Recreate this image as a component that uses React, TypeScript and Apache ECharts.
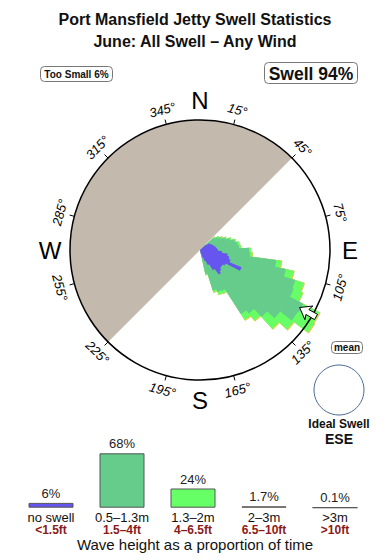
import React, { useEffect, useRef } from 'react';
import * as echarts from 'echarts';

// ---------- DATA ----------
// Rose bins (direction swell comes from, degrees, 5-degree bins)
const ROSE_DIRS = [50, 55, 60, 65, 70, 75, 80, 85, 90, 95, 100, 105, 110, 115, 120, 125, 130, 135, 140, 145, 150, 155, 160, 165];
// Relative frequency per bin (units: circle radius = 130)
const NO_SWELL = [8, 11, 12, 13, 14, 15, 16, 17, 18, 22, 28, 30, 32, 45, 29, 27, 27, 29, 31, 24, 17, 12, 8, 4];
const SWELL_05_13 = [10.5, 10.5, 12, 14.5, 17.5, 20.5, 22, 22, 31, 28, 49, 58, 68, 56.5, 87.7, 88.7, 74, 62, 49, 52, 29.5, 33.5, 34.5, 20.5];
const SWELL_13_2 = [1.5, 1.5, 1.5, 1.5, 1.5, 1.5, 2, 2, 2, 2.5, 5, 8, 9, 10, 18, 20, 17, 16, 9, 7, 3, 3, 2, 1.5];
const SWELL_2_3 = [0, 0, 0.5, 0, 0, 0, 0, 0, 0, 0.5, 1, 1, 1, 0.5, 1, 1, 1, 1, 1, 1, 0.5, 0.5, 0.5, 0];
const SWELL_3P = [0, 0, 0, 0, 0, 0, 0, 0, 0, 0, 0, 0, 0, 0, 0.3, 0.3, 0, 0, 0, 0, 0, 0, 0, 0];
const BIN_WIDTH = 5;

const CIRCLE_VALUE = 130;
const SHADOW_RANGE = [225, 405]; // sheltered directions, clockwise from 225 to 45
const MEAN_DIR = 120;
const TICK_ANGLES = [15, 45, 75, 105, 135, 165, 195, 225, 255, 285, 315, 345];
const TICK_LABELS = ['15°', '45°', '75°', '105°', '135°', '165°', '195°', '225°', '255°', '285°', '315°', '345°'];
const COMPASS_ANGLES = [0, 90, 180, 270];
const COMPASS_LABELS = ['N', 'E', 'S', 'W'];

// Legend / summary bars
const HEIGHT_CATS = ['no swell', '0.5–1.3m', '1.3–2m', '2–3m', '>3m'];
const HEIGHT_FT = ['<1.5ft', '1.5–4ft', '4–6.5ft', '6.5–10ft', '>10ft'];
const HEIGHT_PCT = [6, 68, 24, 1.7, 0.1];

const TOO_SMALL_PCT = 6;
const SWELL_PCT = 94;
const IDEAL_SWELL = 'ESE';

// ---------- STYLE ----------
const FONT = "'Liberation Sans', Arial, Helvetica, sans-serif";
const COLORS = ['#6655ee', '#66cc8c', '#66ff66', '#f0d040', '#d0b0a8'];
const SHADOW_COLOR = '#c4b9ad';
const CX = 200;
const CY = 250;
const R = 130;

const roseSets = [NO_SWELL, SWELL_05_13, SWELL_13_2, SWELL_2_3, SWELL_3P];

// cumulative (stacked) tops for each layer
const cumulative: number[][] = roseSets.map((_, k) =>
  ROSE_DIRS.map((__, i) => roseSets.slice(0, k + 1).reduce((s, set) => s + set[i], 0))
);

function buildOption(): any {
  const deg2rad = (d: number) => (d * Math.PI) / 180;
  const dist = (a: number[], b: number[]) => Math.hypot(a[0] - b[0], a[1] - b[1]);

  return {
    animation: false,
    backgroundColor: '#ffffff',
    title: [
      { text: 'Port Mansfield Jetty Swell Statistics', left: 'center', top: 11, padding: 0, textStyle: { fontFamily: FONT, fontSize: 16, fontWeight: 'bold', color: '#111' } },
      { text: 'June: All Swell – Any Wind', left: 'center', top: 33, padding: 0, textStyle: { fontFamily: FONT, fontSize: 16, fontWeight: 'bold', color: '#111' } },
      { text: 'Wave height as a proportion of time', left: 'center', top: 537, padding: 0, textStyle: { fontFamily: FONT, fontSize: 15, fontWeight: 'normal', color: '#111' } },
    ],
    polar: [{ center: [CX, CY], radius: R }],
    angleAxis: [
      {
        polarIndex: 0,
        type: 'value',
        min: -15,
        max: 345,
        interval: 30,
        startAngle: 105,
        clockwise: true,
        z: 5,
        axisLine: { show: true, lineStyle: { color: '#000', width: 1.5 } },
        axisTick: { show: true, inside: false, length: 5, lineStyle: { color: '#000', width: 1 } },
        axisLabel: { show: false },
        splitLine: { show: false },
      },
    ],
    radiusAxis: [
      { polarIndex: 0, type: 'value', min: 0, max: CIRCLE_VALUE, show: false, axisLine: { show: false }, axisTick: { show: false }, axisLabel: { show: false }, splitLine: { show: false } },
    ],
    grid: { left: 15.5, width: 355, top: 427.7, height: 80 },
    xAxis: {
      type: 'category',
      data: HEIGHT_CATS,
      axisLine: { show: false },
      axisTick: { show: false },
      axisLabel: {
        margin: 3,
        interval: 0,
        formatter: (v: string, i: number) => `{m|${v}}\n{f|${HEIGHT_FT[i]}}`,
        rich: {
          m: { fontFamily: FONT, fontSize: 13, color: '#111', lineHeight: 13 },
          f: { fontFamily: FONT, fontSize: 12, fontWeight: 'bold', color: '#8b1a1a', lineHeight: 13 },
        },
      },
    },
    yAxis: { type: 'value', min: 0, max: 100, show: false, splitLine: { show: false } },
    series: [
      // sheltered sector
      {
        type: 'custom',
        coordinateSystem: 'polar',
        polarIndex: 0,
        silent: true,
        z: 1,
        data: [[CIRCLE_VALUE, SHADOW_RANGE[0], SHADOW_RANGE[1]]],
        renderItem: (params: any, api: any) => {
          const c = api.coord([0, 0]);
          const r = dist(c, api.coord([api.value(0), 0]));
          const a0 = api.value(1);
          const a1 = api.value(2);
          return {
            type: 'sector',
            shape: { cx: c[0], cy: c[1], r0: 0, r, startAngle: deg2rad(a0 - 90), endAngle: deg2rad(a1 - 90), clockwise: true },
            style: { fill: SHADOW_COLOR },
          };
        },
      },
      // swell rose: one stepped polygon per stacked layer, outermost layer first
      {
        type: 'custom',
        coordinateSystem: 'polar',
        polarIndex: 0,
        silent: true,
        clip: false,
        z: 3,
        data: [4, 3, 2, 1, 0].map((k) => [0, 0, k]),
        renderItem: (params: any, api: any) => {
          const k = api.value(2);
          const tops = cumulative[k];
          const pts: number[][] = [api.coord([0, ROSE_DIRS[0]])];
          ROSE_DIRS.forEach((dir, i) => {
            const r = tops[i];
            for (let s = 0; s <= 4; s++) {
              const a = dir - BIN_WIDTH / 2 + (BIN_WIDTH * s) / 4;
              pts.push(api.coord([r, a]));
            }
          });
          pts.push(api.coord([0, ROSE_DIRS[ROSE_DIRS.length - 1]]));
          return {
            type: 'polygon',
            shape: { points: pts },
            style: { fill: COLORS[k], stroke: 'none' },
          };
        },
      },
      // mean direction arrow
      {
        type: 'custom',
        coordinateSystem: 'polar',
        polarIndex: 0,
        silent: true,
        z: 6,
        data: [[CIRCLE_VALUE, MEAN_DIR]],
        renderItem: (params: any, api: any) => {
          const a = api.value(1);
          const pts = [
            [115, a],
            [126, a + 3.6],
            [124, a + 1.3],
            [134, a + 1.3],
            [134, a - 1.3],
            [124, a - 1.3],
            [126, a - 3.6],
          ].map((p) => api.coord(p));
          return {
            type: 'polygon',
            shape: { points: pts },
            style: { fill: '#fff', stroke: '#000', lineWidth: 1 },
          };
        },
      },
      // degree labels
      {
        type: 'custom',
        coordinateSystem: 'polar',
        polarIndex: 0,
        silent: true,
        z: 6,
        data: TICK_ANGLES.map((a) => [145, a]),
        renderItem: (params: any, api: any) => {
          const ang = api.value(1);
          const p = api.coord([api.value(0), ang]);
          const rot = ang > 90 && ang < 270 ? 180 - ang : -ang;
          return {
            type: 'text',
            x: p[0],
            y: p[1],
            rotation: deg2rad(rot),
            style: { text: TICK_LABELS[params.dataIndex], fill: '#000', font: `italic 13px ${FONT}`, align: 'center', verticalAlign: 'middle' },
          };
        },
      },
      // compass letters
      {
        type: 'custom',
        coordinateSystem: 'polar',
        polarIndex: 0,
        silent: true,
        z: 6,
        data: COMPASS_ANGLES.map((a) => [150, a]),
        renderItem: (params: any, api: any) => {
          const p = api.coord([api.value(0), api.value(1)]);
          return {
            type: 'text',
            x: p[0],
            y: p[1],
            style: { text: COMPASS_LABELS[params.dataIndex], fill: '#000', font: `24px ${FONT}`, align: 'center', verticalAlign: 'middle' },
          };
        },
      },
      // summary bars
      {
        type: 'bar',
        xAxisIndex: 0,
        yAxisIndex: 0,
        barWidth: 45,
        silent: true,
        data: HEIGHT_PCT.map((v, i) => ({ value: v, itemStyle: { color: COLORS[i], borderColor: '#555', borderWidth: 1 } })),
        label: {
          show: true,
          position: 'top',
          distance: 3,
          formatter: (p: any) => `${p.value}%`,
          fontFamily: FONT,
          fontSize: 13,
          color: '#222',
        },
      },
    ],
    graphic: [
      {
        type: 'group',
        children: [
          { type: 'rect', shape: { x: 40.5, y: 66.5, width: 72, height: 15, r: 4 }, style: { fill: '#fff', stroke: '#777', lineWidth: 1 } },
          { type: 'text', x: 76.5, y: 74.5, style: { text: `Too Small ${TOO_SMALL_PCT}%`, font: `bold 10px ${FONT}`, fill: '#111', align: 'center', verticalAlign: 'middle' } },
        ],
      },
      {
        type: 'group',
        children: [
          { type: 'rect', shape: { x: 264.5, y: 62.5, width: 93, height: 21, r: 4 }, style: { fill: '#fff', stroke: '#777', lineWidth: 1 } },
          { type: 'text', x: 311, y: 73.5, style: { text: `Swell ${SWELL_PCT}%`, font: `bold 17.5px ${FONT}`, fill: '#111', align: 'center', verticalAlign: 'middle' } },
        ],
      },
      {
        type: 'group',
        children: [
          { type: 'rect', shape: { x: 331.5, y: 341.5, width: 31, height: 12, r: 4 }, style: { fill: '#fff', stroke: '#777', lineWidth: 1 } },
          { type: 'text', x: 347, y: 347.5, style: { text: 'mean', font: `bold 10px ${FONT}`, fill: '#111', align: 'center', verticalAlign: 'middle' } },
        ],
      },
      { type: 'circle', shape: { cx: 339, cy: 390, r: 25 }, style: { fill: '#fff', stroke: '#4a6a90', lineWidth: 1 } },
      { type: 'text', x: 339, y: 424, style: { text: 'Ideal Swell', font: `bold 12px ${FONT}`, fill: '#111', align: 'center', verticalAlign: 'middle' } },
      { type: 'text', x: 339, y: 439, style: { text: IDEAL_SWELL, font: `bold 14px ${FONT}`, fill: '#111', align: 'center', verticalAlign: 'middle' } },
    ],
  };
}

export default function App() {
  const ref = useRef<HTMLDivElement>(null);
  useEffect(() => {
    if (!ref.current) return;
    const chart = echarts.init(ref.current, null, { renderer: 'svg' });
    chart.setOption(buildOption());
    return () => {
      chart.dispose();
    };
  }, []);
  return (
    <div
      ref={ref}
      style={{ position: 'fixed', left: 0, top: 0, width: 390, height: 560, background: '#fff' }}
    />
  );
}
